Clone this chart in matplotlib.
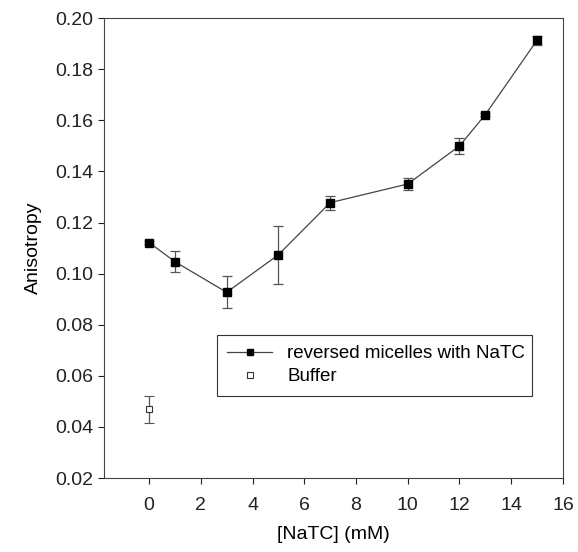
import numpy as np
import matplotlib
matplotlib.use('Agg')
import matplotlib.pyplot as plt
from matplotlib.lines import Line2D

plt.rcParams['font.family'] = ['Liberation Sans', 'DejaVu Sans']

# reversed micelles with NaTC
natc = [0, 1, 3, 5, 7, 10, 12, 13, 15]
aniso = [0.1122, 0.1047, 0.0927, 0.1074, 0.1278, 0.1351, 0.1500, 0.1623, 0.1914]
aniso_err = [0.0006, 0.0040, 0.0062, 0.0114, 0.0028, 0.0023, 0.0033, 0.0005, 0.0017]

# buffer
buf_x = [0]
buf_y = [0.0469]
buf_err = [0.0052]

xticks = [0, 2, 4, 6, 8, 10, 12, 14, 16]
yticks = [0.02, 0.04, 0.06, 0.08, 0.10, 0.12, 0.14, 0.16, 0.18, 0.20]

fig = plt.figure(figsize=(5.78, 5.52), dpi=100, facecolor='w')
ax = fig.add_axes([0.180, 0.134, 0.794, 0.833])

ax.errorbar(natc, aniso, yerr=aniso_err, color='#444444', lw=0.9,
            marker='s', ms=5.5, mfc='black', mec='black',
            ecolor='#555555', elinewidth=0.9, capsize=3.5, capthick=0.9)
ax.errorbar(buf_x, buf_y, yerr=buf_err, ls='none', marker='s', ms=5,
            mfc='white', mec='#333333', mew=0.8,
            ecolor='#555555', elinewidth=0.9, capsize=3.5, capthick=0.9)

ax.set_xlim(-1.74, 16)
ax.set_ylim(0.02, 0.20)
ax.set_xticks(xticks)
ax.set_yticks(yticks)
ax.set_yticklabels([f'{v:.2f}' for v in yticks])
ax.tick_params(direction='out', length=4, width=0.8, labelsize=14, colors='#222222')
ax.tick_params(axis='x', pad=10)
for s in ax.spines.values():
    s.set_linewidth(0.8)
    s.set_color('#444444')

ax.set_xlabel('[NaTC] (mM)', fontsize=14, labelpad=8)
ax.set_ylabel('Anisotropy', fontsize=14, labelpad=10)

handles = [
    Line2D([], [], color='#444444', lw=0.9, marker='s', ms=4.5, mfc='black', mec='black'),
    Line2D([], [], ls='none', marker='s', ms=4.5, mfc='white', mec='#333333', mew=0.8),
]
leg = ax.legend(handles, ['reversed micelles with NaTC', 'Buffer'],
                loc='upper left', bbox_to_anchor=(0.246, 0.180, 0.686, 0.131),
                mode='expand', fontsize=13.5, frameon=True, fancybox=False,
                framealpha=1, edgecolor='#333333', borderpad=0.55, labelspacing=0.3,
                handlelength=2.4, handletextpad=0.8, borderaxespad=0)
leg.get_frame().set_linewidth(0.8)

fig.savefig('out.png', dpi=100)
